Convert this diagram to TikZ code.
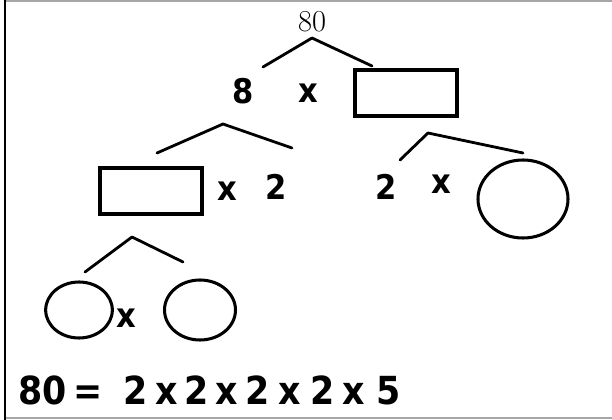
\documentclass[tikz,border=0pt]{standalone}
\usepackage{fontspec}
\newfontfamily\handfont[FakeStretch=0.9]{DejaVu Sans}
\usetikzlibrary{shapes.geometric,positioning}

\begin{document}
\begin{tikzpicture}[x=0.03cm, y=-0.03cm,
  branch/.style={line width=2.4pt, line cap=round, line join=round},
  blankbox/.style={draw, line width=3pt, minimum width=3.05cm, minimum height=1.38cm},
  blankcirc/.style={draw, ellipse, line width=2.6pt, inner sep=0pt},
  hand/.style={font=\handfont\bfseries\fontsize{29}{31}\selectfont, inner sep=0pt}]
  \useasboundingbox (0,0) rectangle (612,420);
  % frame of the scan
  \draw[black!35, line width=1.2pt] (5,1) -- (612,1);
  \draw[black!35, line width=1.2pt] (5,418) -- (612,418);
  \draw[line width=1.5pt] (5,0) -- (5,420);
  % top: 80 = 8 x [ ]
  \node[font=\fontsize{26}{28}\selectfont, inner sep=0pt] (n80) at (312,22) {80};
  \node[hand] (eight) at (243,91) {8};
  \node[hand] (times1) at (308,93) {x};
  \node[blankbox] (box1) at (406,93) {};
  \coordinate (b1l) at (263,67);
  \coordinate (b1t) at (312,38);
  \coordinate (b1r) at (372,66);
  \draw[branch] (b1l) -- (b1t) -- (b1r);
  % second row
  \node[blankbox] (box2) at (151,191) {};
  \node[hand] (times2) at (227,191) {x};
  \node[hand] (two1) at (276,187) {2};
  \node[hand] (two2) at (386,187) {2};
  \node[hand] (times3) at (441,184) {x};
  \node[blankcirc, minimum width=2.7cm, minimum height=2.34cm] (circ1) at (523,199) {};
  \coordinate (b2l) at (157,153);
  \coordinate (b2t) at (223,124);
  \coordinate (b2r) at (292,148);
  \draw[branch] (b2l) -- (b2t) -- (b2r);
  \coordinate (b3l) at (400,160);
  \coordinate (b3t) at (428,133);
  \coordinate (b3r) at (523,153);
  \draw[branch] (b3l) -- (b3t) -- (b3r);
  % third row
  \node[blankcirc, minimum width=2.0cm, minimum height=1.68cm] (circ2) at (79,310) {};
  \node[hand] (times4) at (126,318) {x};
  \node[blankcirc, minimum width=2.13cm, minimum height=1.8cm] (circ3) at (200,310) {};
  \coordinate (b4l) at (85,272);
  \coordinate (b4t) at (132,237);
  \coordinate (b4r) at (183,262);
  \draw[branch] (b4l) -- (b4t) -- (b4r);
  % result
  \node[hand, font=\handfont\bfseries\fontsize{33}{35}\selectfont, anchor=base west]
    (result) at (18,404)
    {80\kern6pt=\kern18pt 2\kern6pt x\kern6pt 2\kern6pt x\kern6pt 2\kern8pt x\kern8pt 2\kern6pt x\kern10pt 5};
\end{tikzpicture}
\end{document}
